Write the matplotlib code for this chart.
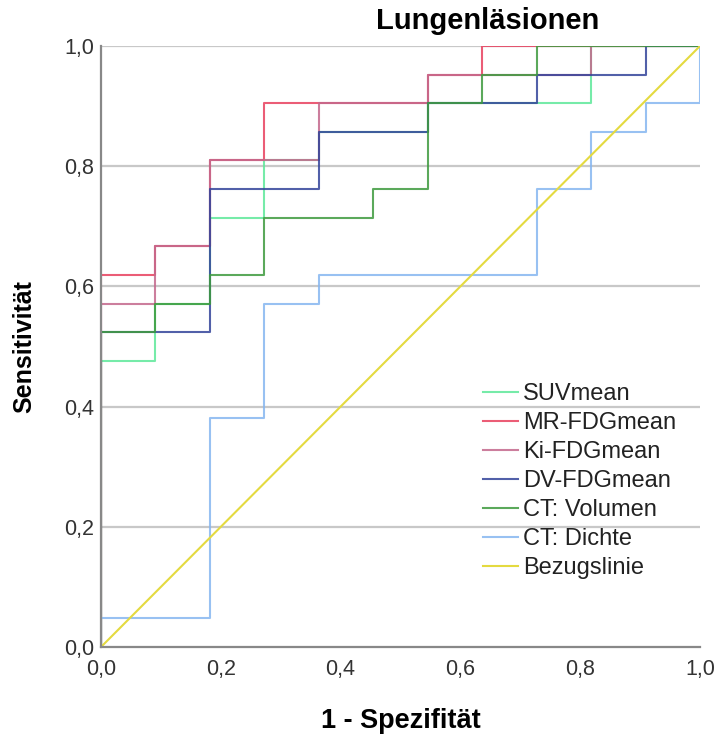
import numpy as np
import matplotlib
matplotlib.use("Agg")
from matplotlib import pyplot as plt

# ROC data: counts of false positives (of 11 negatives) and true positives (of 21 positives)
n_neg = 11
n_pos = 21

names = ["SUVmean", "MR-FDGmean", "Ki-FDGmean", "DV-FDGmean", "CT: Volumen", "CT: Dichte"]
colors = ["#5ee89a", "#e8405e", "#c4688c", "#34449a", "#3e9a3e", "#86b6f0"]

fp_suv = [0, 0, 1, 1, 2, 2, 3, 3, 4, 4, 6, 6, 9, 9, 11]
tp_suv = [0, 10, 10, 12, 12, 15, 15, 17, 17, 18, 18, 19, 19, 21, 21]

fp_mr = [0, 0, 1, 1, 2, 2, 3, 3, 6, 6, 7, 7, 11]
tp_mr = [0, 13, 13, 14, 14, 17, 17, 19, 19, 20, 20, 21, 21]

fp_ki = [0, 0, 1, 1, 2, 2, 4, 4, 6, 6, 9, 9, 11]
tp_ki = [0, 12, 12, 14, 14, 17, 17, 19, 19, 20, 20, 21, 21]

fp_dv = [0, 0, 2, 2, 4, 4, 6, 6, 8, 8, 10, 10, 11]
tp_dv = [0, 11, 11, 16, 16, 18, 18, 19, 19, 20, 20, 21, 21]

fp_vol = [0, 0, 1, 1, 2, 2, 3, 3, 5, 5, 6, 6, 7, 7, 8, 8, 11]
tp_vol = [0, 11, 11, 12, 12, 13, 13, 15, 15, 16, 16, 19, 19, 20, 20, 21, 21]

fp_dichte = [0, 0, 2, 2, 3, 3, 4, 4, 8, 8, 9, 9, 10, 10, 11, 11]
tp_dichte = [0, 1, 1, 8, 8, 12, 12, 13, 13, 16, 16, 18, 18, 19, 19, 21]

fps = [fp_suv, fp_mr, fp_ki, fp_dv, fp_vol, fp_dichte]
tps = [tp_suv, tp_mr, tp_ki, tp_dv, tp_vol, tp_dichte]

ticks = [0.0, 0.2, 0.4, 0.6, 0.8, 1.0]
tick_labels = ["0,0", "0,2", "0,4", "0,6", "0,8", "1,0"]

plt.rcParams["font.family"] = ["Liberation Sans", "DejaVu Sans"]

fig = plt.figure(figsize=(7.19, 7.35), dpi=100)
ax = fig.add_axes([101 / 719, 1 - 647 / 735, 599 / 719, 601 / 735])

for y in ticks[1:]:
    ax.axhline(y, color="#c8c8c8", lw=1.6, zorder=0)

for name, c, fp, tp in zip(names, colors, fps, tps):
    ax.plot(np.array(fp) / n_neg, np.array(tp) / n_pos, color=c, lw=1.5, alpha=0.85, label=name)
ax.plot([0, 1], [0, 1], color="#e4da40", lw=1.5, label="Bezugslinie")

ax.set_xlim(0, 1)
ax.set_ylim(0, 1)
ax.set_xticks(ticks)
ax.set_yticks(ticks)
ax.set_xticklabels(tick_labels, fontsize=15.5, color="#333333")
ax.set_yticklabels(tick_labels, fontsize=15.5, color="#333333")
ax.tick_params(axis="x", length=0, pad=9)
ax.tick_params(axis="y", length=0, pad=5)
for s in ["top", "right"]:
    ax.spines[s].set_visible(False)
for s in ["left", "bottom"]:
    ax.spines[s].set_color("#888888")
    ax.spines[s].set_linewidth(1.6)

ax.set_xlabel("1 - Spezifität", fontsize=19.5, fontweight="bold", labelpad=20)
ax.set_ylabel("Sensitivität", fontsize=18, fontweight="bold", labelpad=20)
fig.text(488 / 719, 1 - 21 / 735, "Lungenläsionen", fontsize=21, fontweight="bold",
         ha="center", va="center")

leg = ax.legend(loc="upper left", bbox_to_anchor=(0.622, 0.455), frameon=False,
                fontsize=17, handlelength=1.48, handletextpad=0.22, labelspacing=0.3,
                borderaxespad=0)
for t in leg.get_texts():
    t.set_color("#222222")

fig.savefig("out.png", dpi=100)
